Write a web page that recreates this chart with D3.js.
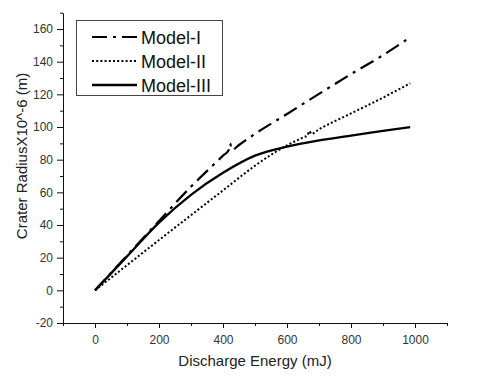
<!DOCTYPE html>
<html lang="en">
<head>
    <meta charset="UTF-8">
    <title>Crater Radius vs Discharge Energy</title>
    <script src="https://d3js.org/d3.v7.min.js"></script>
    <style>
        body { margin: 0; background: #fff; }
        svg { font-family: Arial, "Liberation Sans", sans-serif; }
        .tick text { fill: #333; font-size: 12px; }
        .axis-title { fill: #222; font-size: 15px; }
        .legend text { fill: #111; font-size: 18px; }
    </style>
</head>
<body>
    <div id="chart"></div>
    <script>
        // Model-I (dash-dot)
        const model1Energy = [0, 100, 200, 300, 400, 418, 422, 428, 450, 500, 600, 700, 800, 900, 985];
        const model1Radius = [0, 21.3, 42.5, 63.5, 82.5, 86, 90, 86, 89, 95.8, 108, 120.3, 132.4, 144, 155];
        // Model-II (dotted)
        const model2Energy = [0, 100, 200, 300, 400, 500, 550, 600, 650, 664, 670, 676, 700, 800, 900, 985];
        const model2Radius = [0, 15.4, 30.8, 46, 61.2, 76.3, 83, 88.8, 93.6, 95, 97.5, 95.8, 98.6, 108.3, 118, 126.8];
        // Model-III (solid)
        const model3Energy = [0, 100, 200, 300, 400, 500, 600, 700, 800, 900, 985];
        const model3Radius = [0, 20.8, 41.5, 58.5, 72, 82.5, 88, 91.8, 94.8, 97.6, 100];

        const seriesNames = ["Model-I", "Model-II", "Model-III"];
        const xTicks = [0, 200, 400, 600, 800, 1000];
        const yTicks = [-20, 0, 20, 40, 60, 80, 100, 120, 140, 160];

        const series = [
            { name: seriesNames[0], dash: "15,6,3,6", width: 2.2, pts: model1Energy.map((e, i) => [e, model1Radius[i]]) },
            { name: seriesNames[1], dash: "2,2.2", width: 2, pts: model2Energy.map((e, i) => [e, model2Radius[i]]) },
            { name: seriesNames[2], dash: null, width: 2.3, pts: model3Energy.map((e, i) => [e, model3Radius[i]]) }
        ];

        const svg = d3.select("#chart").append("svg")
            .attr("width", 480)
            .attr("height", 379);

        const x = d3.scaleLinear().domain([-100, 1100]).range([63, 447]);
        const y = d3.scaleLinear().domain([-20, 170]).range([323, 12.7]);

        const plain = d => String(d);

        // minor ticks
        svg.append("g")
            .attr("transform", "translate(0,323)")
            .call(d3.axisBottom(x).tickValues(d3.range(-100, 1101, 100).filter(v => v % 200 !== 0))
                .tickSize(3).tickFormat(""))
            .call(g => g.select(".domain").remove());
        svg.append("g")
            .attr("transform", "translate(63,0)")
            .call(d3.axisLeft(y).tickValues(d3.range(-10, 171, 20)).tickSize(3).tickFormat(""))
            .call(g => g.select(".domain").remove());

        // major ticks
        svg.append("g")
            .attr("transform", "translate(0,323)")
            .call(d3.axisBottom(x).tickValues(xTicks).tickFormat(plain)
                .tickSize(5).tickSizeOuter(0).tickPadding(7));
        svg.append("g")
            .attr("transform", "translate(63,0)")
            .call(d3.axisLeft(y).tickValues(yTicks).tickFormat(plain)
                .tickSize(6).tickSizeOuter(0).tickPadding(4));

        svg.selectAll(".tick line, .domain").attr("stroke", "#111");

        const line = d3.line()
            .x(d => x(d[0]))
            .y(d => y(d[1]))
            .curve(d3.curveMonotoneX);

        svg.selectAll(".series")
            .data(series)
            .enter().append("path")
            .attr("class", "series")
            .attr("d", d => line(d.pts))
            .attr("fill", "none")
            .attr("stroke", "#000")
            .attr("stroke-width", d => d.width)
            .attr("stroke-dasharray", d => d.dash);

        // legend
        const legend = svg.append("g").attr("class", "legend");
        legend.append("rect")
            .attr("x", 76.5).attr("y", 20.5)
            .attr("width", 146).attr("height", 75)
            .attr("fill", "#fff")
            .attr("stroke", "#444");

        const items = legend.selectAll(".item")
            .data(series)
            .enter().append("g")
            .attr("class", "item")
            .attr("transform", (d, i) => `translate(0, ${37 + i * 24})`);

        items.append("line")
            .attr("x1", 92).attr("x2", 137)
            .attr("stroke", "#000")
            .attr("stroke-width", d => d.width)
            .attr("stroke-dasharray", d => d.dash);

        items.append("text")
            .attr("x", 141)
            .attr("y", 6.5)
            .text(d => d.name);

        svg.append("text")
            .attr("class", "axis-title")
            .attr("x", 255)
            .attr("y", 366)
            .attr("text-anchor", "middle")
            .text("Discharge Energy (mJ)");

        svg.append("text")
            .attr("class", "axis-title")
            .attr("transform", "translate(27,156) rotate(-90)")
            .attr("text-anchor", "middle")
            .text("Crater RadiusX10^-6 (m)");
    </script>
</body>
</html>
